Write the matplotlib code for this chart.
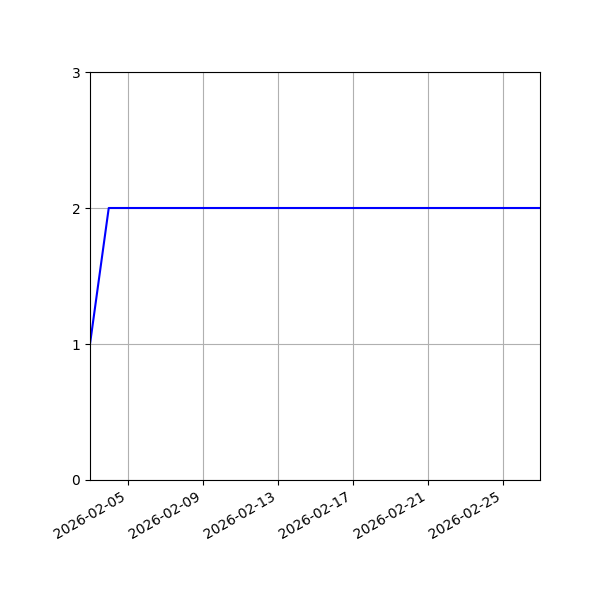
import matplotlib
matplotlib.use("Agg")
from matplotlib import pyplot as plt
import matplotlib.dates as mdates
import numpy as np

# daily values
dates = np.arange(np.datetime64("2026-02-03"), np.datetime64("2026-02-28"))
values = [1, 2, 2, 2, 2, 2, 2, 2, 2, 2, 2, 2, 2,
          2, 2, 2, 2, 2, 2, 2, 2, 2, 2, 2, 2]
yticks = [0, 1, 2, 3]

fig, ax = plt.subplots(figsize=(6, 6), dpi=100)
ax.plot(dates.astype("datetime64[D]").astype(object), values, color="blue")
ax.set_xlim(dates[0], dates[-1])
ax.set_ylim(0, 3)
ax.set_yticks(yticks)
ax.xaxis.set_major_locator(mdates.DayLocator(bymonthday=range(1, 32, 4)))
ax.xaxis.set_major_formatter(mdates.DateFormatter("%Y-%m-%d"))
ax.grid(True)
fig.autofmt_xdate()
fig.subplots_adjust(left=0.15, right=0.9, top=0.88, bottom=0.2)
fig.savefig("out.png")
